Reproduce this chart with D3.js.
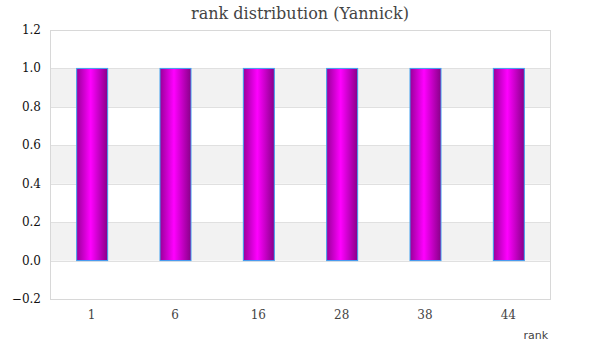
<!DOCTYPE html>
<html>
<head>
<meta charset="utf-8">
<script src="https://cdn.jsdelivr.net/npm/d3@7"></script>
<style>
  body { margin: 0; background: #fff; }
  svg { display: block; }
</style>
</head>
<body>
<svg width="600" height="360"></svg>
<script>
// chart data
const ranks = ['1', '6', '16', '28', '38', '44'];
const counts = [1, 1, 1, 1, 1, 1];
const yTicks = [-0.2, 0, 0.2, 0.4, 0.6, 0.8, 1.0, 1.2];

const svg = d3.select('svg');
const margin = { top: 30, right: 50, bottom: 61, left: 50 };
const width = 600 - margin.left - margin.right;
const height = 360 - margin.top - margin.bottom;

// gradient for the bars
const grad = svg.append('defs').append('linearGradient')
  .attr('id', 'barGrad')
  .attr('x1', '0%').attr('x2', '100%').attr('y1', '0%').attr('y2', '0%');
grad.append('stop').attr('offset', '0%').attr('stop-color', '#990099');
grad.append('stop').attr('offset', '45%').attr('stop-color', '#ff00ff');
grad.append('stop').attr('offset', '100%').attr('stop-color', '#880088');

const x = d3.scaleBand().domain(ranks).range([0, width]);
const y = d3.scaleLinear().domain([-0.2, 1.2]).range([height, 0]);

const chart = svg.append('g')
  .attr('transform', `translate(${margin.left},${margin.top})`);

// alternating bands
const bandStarts = [0, 0.4, 0.8];
chart.selectAll('rect.band')
  .data(bandStarts)
  .enter()
  .append('rect')
  .attr('class', 'band')
  .attr('x', 0)
  .attr('width', width)
  .attr('y', d => y(d + 0.2))
  .attr('height', d => y(d) - y(d + 0.2))
  .attr('fill', '#f2f2f2');

// grid lines
chart.selectAll('line.grid')
  .data(yTicks)
  .enter()
  .append('line')
  .attr('x1', 0)
  .attr('x2', width)
  .attr('y1', d => Math.round(y(d)) + 0.5)
  .attr('y2', d => Math.round(y(d)) + 0.5)
  .attr('stroke', '#e0e0e0');

// plot frame
chart.append('rect')
  .attr('x', 0.5).attr('y', 0.5)
  .attr('width', width).attr('height', height)
  .attr('fill', 'none')
  .attr('stroke', '#d8d8d8');

// bars
const barW = 31;
chart.selectAll('rect.bar')
  .data(counts)
  .enter()
  .append('rect')
  .attr('class', 'bar')
  .attr('x', (d, i) => x(ranks[i]) + x.bandwidth() / 2 - barW / 2 + 0.5)
  .attr('y', d => y(d))
  .attr('width', barW)
  .attr('height', d => y(0) - y(d))
  .attr('fill', 'url(#barGrad)')
  .attr('stroke', '#3fa0f0')
  .attr('stroke-width', 1);

// y tick labels
chart.selectAll('text.ylab')
  .data(yTicks)
  .enter()
  .append('text')
  .attr('x', -9)
  .attr('y', d => y(d) + 4)
  .attr('text-anchor', 'end')
  .attr('font-family', 'DejaVu Serif, serif')
  .attr('font-size', 12)
  .attr('fill', '#111')
  .text(d => d3.format('.1f')(d));

// x tick labels
chart.selectAll('text.xlab')
  .data(ranks)
  .enter()
  .append('text')
  .attr('x', d => x(d) + x.bandwidth() / 2)
  .attr('y', height + 20)
  .attr('text-anchor', 'middle')
  .attr('font-family', 'DejaVu Serif, serif')
  .attr('font-size', 12)
  .attr('fill', '#444')
  .text(d => d);

// axis title
svg.append('text')
  .attr('x', 548)
  .attr('y', 339)
  .attr('text-anchor', 'end')
  .attr('font-family', 'DejaVu Sans, sans-serif')
  .attr('font-size', 11)
  .attr('fill', '#444')
  .text('rank');

// chart title
svg.append('text')
  .attr('x', 300)
  .attr('y', 19)
  .attr('text-anchor', 'middle')
  .attr('font-family', 'DejaVu Serif, serif')
  .attr('font-size', 16)
  .attr('fill', '#444')
  .text('rank distribution (Yannick)');
</script>
</body>
</html>
